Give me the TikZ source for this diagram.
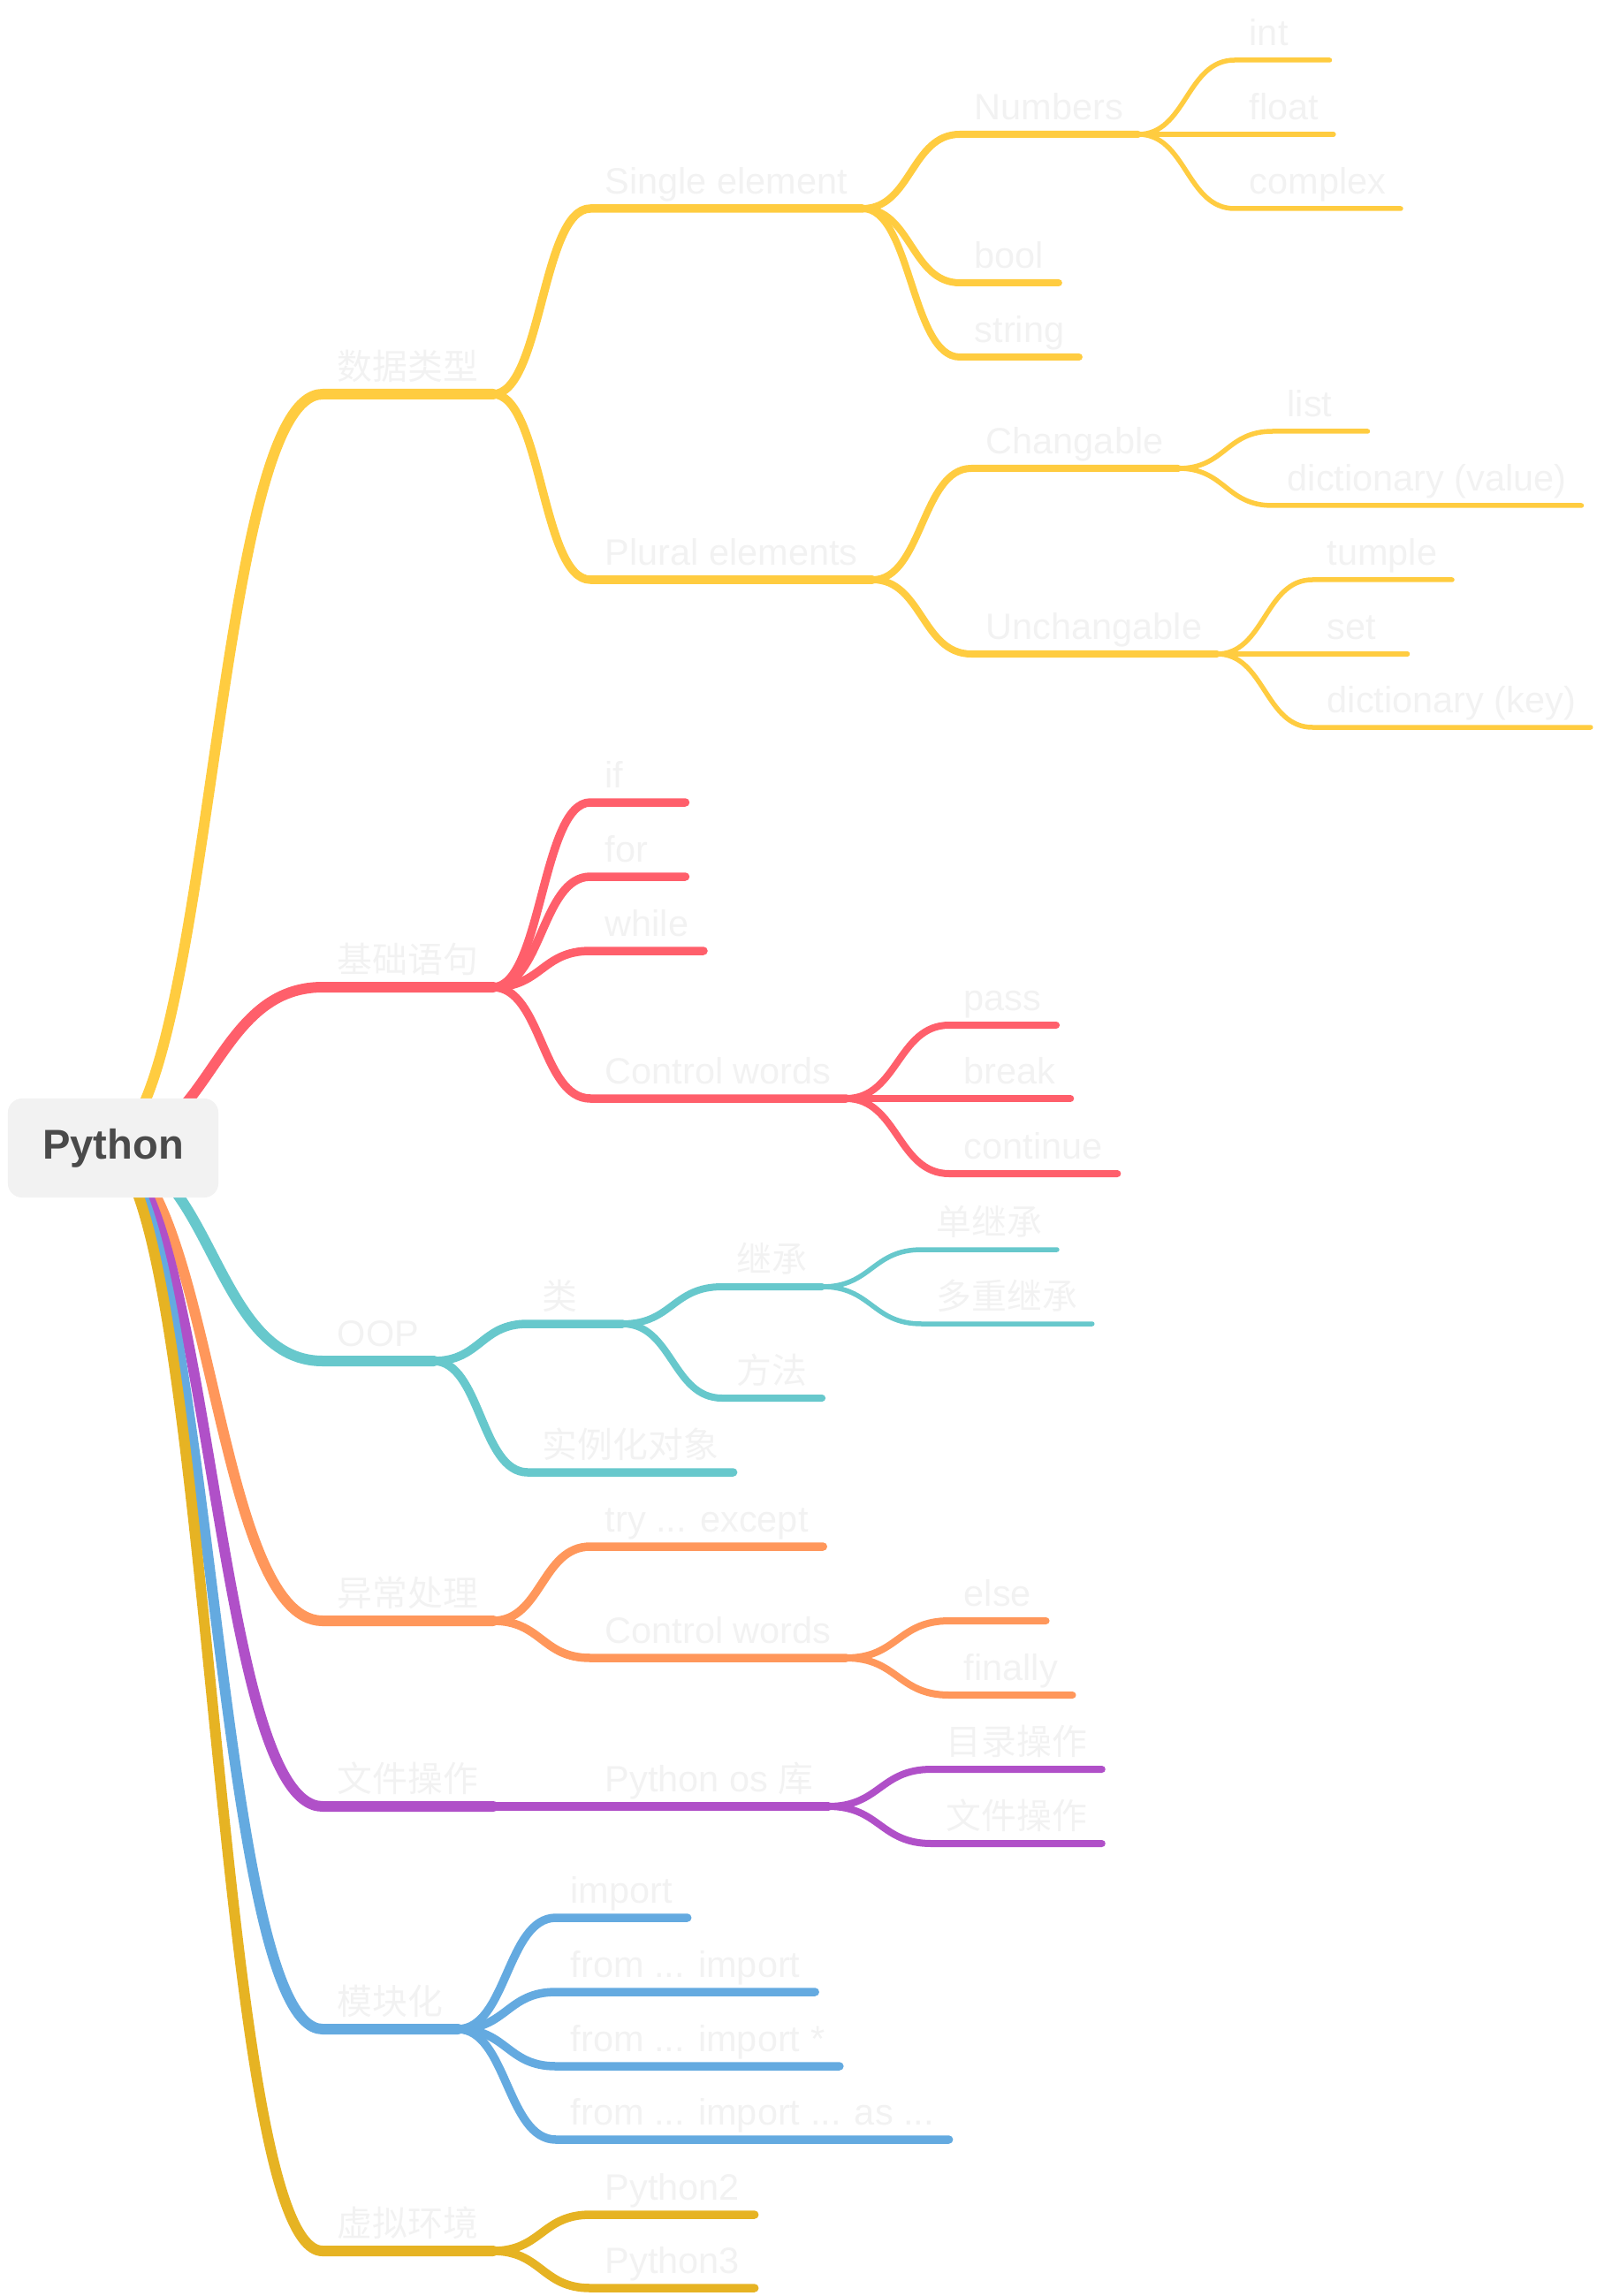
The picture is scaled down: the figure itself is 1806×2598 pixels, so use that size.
\documentclass[tikz,border=0pt]{standalone}
\usepackage{fontspec}
\setmainfont{Liberation Sans}
\newfontfamily\cjk[Scale=0.96]{Noto Sans CJK SC}
\usetikzlibrary{calc,backgrounds}
\definecolor{cYel}{HTML}{FFCC40}
\definecolor{cRed}{HTML}{FF5F6B}
\definecolor{cTeal}{HTML}{67C8CC}
\definecolor{cOra}{HTML}{FF975B}
\definecolor{cPur}{HTML}{B050C8}
\definecolor{cBlu}{HTML}{64AAE0}
\definecolor{cGld}{HTML}{E6B323}
\definecolor{cTxt}{HTML}{F2F2F2}
\definecolor{cDark}{HTML}{4A4A4A}
% label text, never narrower than the shortest underline
\newcommand\lb[1]{\setbox0\hbox{#1}\ifdim\wd0<0.74cm\makebox[0.74cm][l]{#1}\else\box0\fi}
\tikzset{
  lbl/.style={anchor=south west, inner xsep=0.16cm, inner ysep=0pt,
    text depth=0.16cm, text=cTxt, font=\fontsize{11.8pt}{14pt}\selectfont},
  root/.style={fill=cTxt, rounded corners=0.16cm, minimum width=2.38cm,
    minimum height=1.12cm, text=cDark, font=\bfseries\fontsize{13.4pt}{16pt}\selectfont},
  link/.style={to path={let \p1=(\tikztostart), \p2=(\tikztotarget) in
    .. controls ({0.5*\x1+0.5*\x2},\y1) and ({0.5*\x1+0.5*\x2},\y2) .. (\tikztotarget)}},
  lv1/.style={line width=0.12cm, line cap=round, line join=round},
  lv2/.style={line width=0.095cm, line cap=round, line join=round},
  lv3/.style={line width=0.08cm, line cap=round, line join=round},
  lv4/.style={line width=0.055cm, line cap=round, line join=round},
}
\begin{document}
\begin{tikzpicture}[x=0.01cm,y=-0.01cm]
  \useasboundingbox (0,0) rectangle (1806,2598);
  % centre
  \node[root] (root) at (128,1299) {Python};
  \coordinate (hub) at ([xshift=-0.13cm]root.center);
  % main branches
  \node[lbl] (dt) at (365,446) {\cjk 数据类型};
  \node[lbl] (jc) at (365,1117) {\cjk 基础语句};
  \node[lbl] (oop) at (365,1540) {OOP};
  \node[lbl] (yc) at (365,1834) {\cjk 异常处理};
  \node[lbl] (wj) at (365,2044) {\cjk 文件操作};
  \node[lbl] (mk) at (365,2296) {\cjk 模块化};
  \node[lbl] (xn) at (365,2547) {\cjk 虚拟环境};
  \begin{scope}[on background layer]
    \draw[cYel,lv1] (hub) to[link] (dt.south west) -- (dt.south east);
    \draw[cRed,lv1] (hub) to[link] (jc.south west) -- (jc.south east);
    \draw[cTeal,lv1] (hub) to[link] (oop.south west) -- (oop.south east);
    \draw[cOra,lv1] (hub) to[link] (yc.south west) -- (yc.south east);
    \draw[cPur,lv1] (hub) to[link] (wj.south west) -- (wj.south east);
    \draw[cBlu,lv1] (hub) to[link] (mk.south west) -- (mk.south east);
    \draw[cGld,lv1] (hub) to[link] (xn.south west) -- (xn.south east);
  \end{scope}
  % data types
  \foreach \nm/\txt/\y in {single/Single element/236, plural/Plural elements/656}{
    \node[lbl] (\nm) at (668,\y) {\lb{\txt}};
    \draw[cYel,lv2] (dt.south east) to[link] (\nm.south west) -- (\nm.south east);
  }
  \foreach \nm/\txt/\y in {num/Numbers/152, bool/bool/320, str/string/404}{
    \node[lbl] (\nm) at (1086,\y) {\lb{\txt}};
    \draw[cYel,lv3] (single.south east) to[link] (\nm.south west) -- (\nm.south east);
  }
  \foreach \nm/\txt/\y in {int/int/68, float/float/152, cplx/complex/236}{
    \node[lbl] (\nm) at (1397,\y) {\lb{\txt}};
    \draw[cYel,lv4] (num.south east) to[link] (\nm.south west) -- (\nm.south east);
  }
  \foreach \nm/\txt/\y in {chg/Changable/530, unchg/Unchangable/740}{
    \node[lbl] (\nm) at (1099,\y) {\lb{\txt}};
    \draw[cYel,lv3] (plural.south east) to[link] (\nm.south west) -- (\nm.south east);
  }
  \foreach \nm/\txt/\y in {list/list/488, dval/dictionary (value)/572}{
    \node[lbl] (\nm) at (1440,\y) {\lb{\txt}};
    \draw[cYel,lv4] (chg.south east) to[link] (\nm.south west) -- (\nm.south east);
  }
  \foreach \nm/\txt/\y in {tup/tumple/656, set/set/740, dkey/dictionary (key)/823}{
    \node[lbl] (\nm) at (1485,\y) {\lb{\txt}};
    \draw[cYel,lv4] (unchg.south east) to[link] (\nm.south west) -- (\nm.south east);
  }
  % basic statements
  \foreach \nm/\txt/\y in {if/if/908, for/for/992, while/while/1076, ctrl/Control words/1243}{
    \node[lbl] (\nm) at (668,\y) {\lb{\txt}};
    \draw[cRed,lv2] (jc.south east) to[link] (\nm.south west) -- (\nm.south east);
  }
  \foreach \nm/\txt/\y in {pass/pass/1160, brk/break/1243, cont/continue/1328}{
    \node[lbl] (\nm) at (1074,\y) {\lb{\txt}};
    \draw[cRed,lv3] (ctrl.south east) to[link] (\nm.south west) -- (\nm.south east);
  }
  % oop
  \foreach \nm/\txt/\y in {cls/类/1498, inst/实例化对象/1666}{
    \node[lbl] (\nm) at (597,\y) {\lb{\cjk\txt}};
    \draw[cTeal,lv2] (oop.south east) to[link] (\nm.south west) -- (\nm.south east);
  }
  \foreach \nm/\txt/\y in {inh/继承/1456, meth/方法/1582}{
    \node[lbl] (\nm) at (817,\y) {\lb{\cjk\txt}};
    \draw[cTeal,lv3] (cls.south east) to[link] (\nm.south west) -- (\nm.south east);
  }
  \foreach \nm/\txt/\y in {sinh/单继承/1414, minh/多重继承/1498}{
    \node[lbl] (\nm) at (1043,\y) {\lb{\cjk\txt}};
    \draw[cTeal,lv4] (inh.south east) to[link] (\nm.south west) -- (\nm.south east);
  }
  % exceptions
  \foreach \nm/\txt/\y in {try/{try ... except}/1750, ctrlb/Control words/1876}{
    \node[lbl] (\nm) at (668,\y) {\lb{\txt}};
    \draw[cOra,lv2] (yc.south east) to[link] (\nm.south west) -- (\nm.south east);
  }
  \foreach \nm/\txt/\y in {else/else/1834, fin/finally/1918}{
    \node[lbl] (\nm) at (1074,\y) {\lb{\txt}};
    \draw[cOra,lv3] (ctrlb.south east) to[link] (\nm.south west) -- (\nm.south east);
  }
  % files
  \node[lbl] (pyos) at (668,2044) {Python os {\cjk 库}};
  \draw[cPur,lv2] (wj.south east) to[link] (pyos.south west) -- (pyos.south east);
  \foreach \nm/\txt/\y in {dir/目录操作/2002, file/文件操作/2086}{
    \node[lbl] (\nm) at (1054,\y) {\lb{\cjk\txt}};
    \draw[cPur,lv3] (pyos.south east) to[link] (\nm.south west) -- (\nm.south east);
  }
  % modules
  \foreach \nm/\txt/\y in {imp/import/2170, fimp/{from ... import}/2254,
      fimps/{from ... import *}/2338, fimpas/{from ... import ... as ...}/2421}{
    \node[lbl] (\nm) at (629,\y) {\lb{\txt}};
    \draw[cBlu,lv2] (mk.south east) to[link] (\nm.south west) -- (\nm.south east);
  }
  % venv
  \foreach \nm/\txt/\y in {py2/Python2/2506, py3/Python3/2589}{
    \node[lbl] (\nm) at (668,\y) {\lb{\txt}};
    \draw[cGld,lv2] (xn.south east) to[link] (\nm.south west) -- (\nm.south east);
  }
\end{tikzpicture}
\end{document}
